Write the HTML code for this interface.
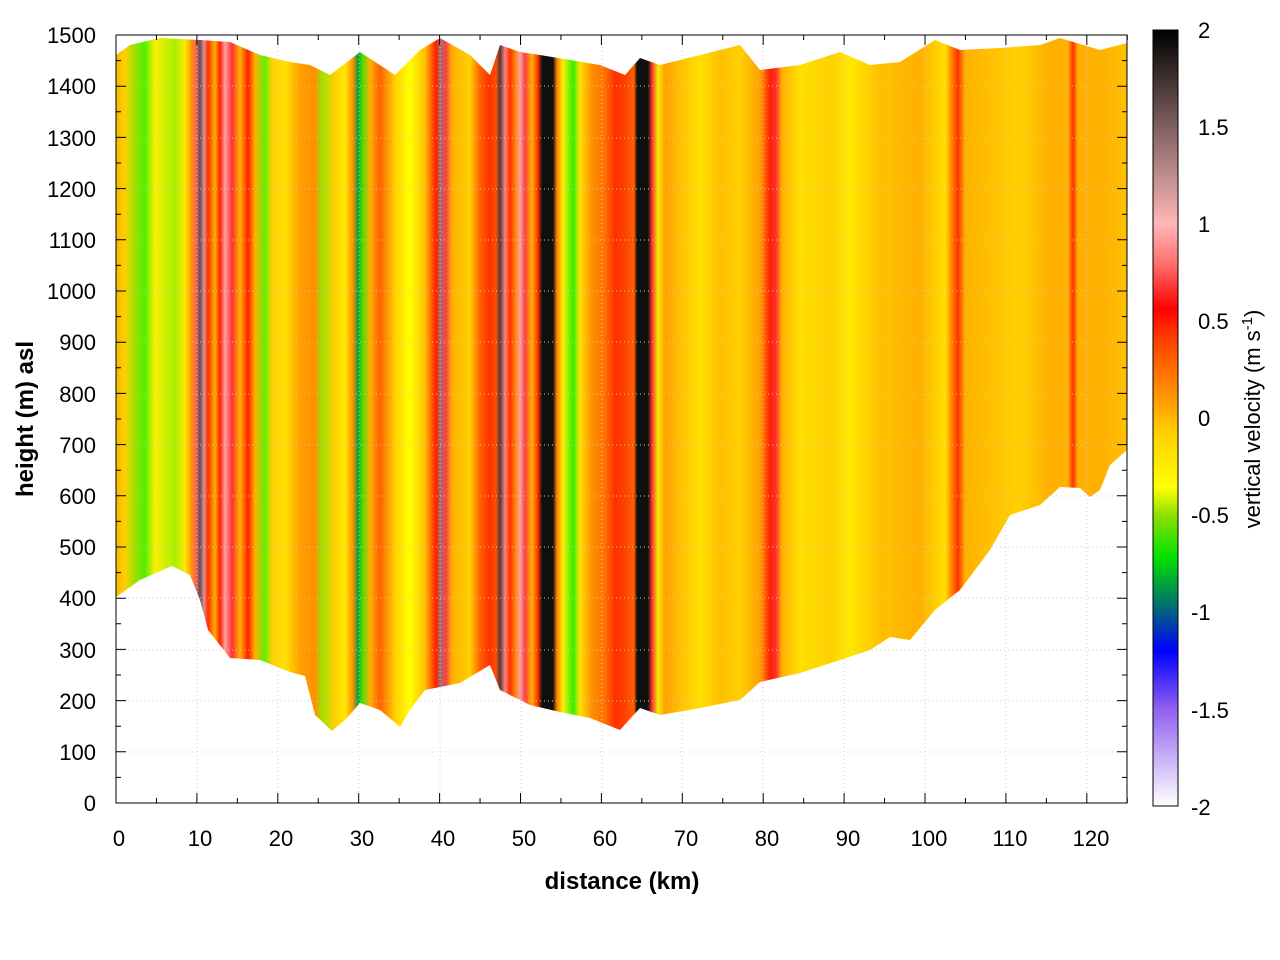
<!DOCTYPE html>
<html><head><meta charset="utf-8"><style>body{margin:0;background:#fff}svg{display:block}text{font-family:"Liberation Sans",sans-serif;font-size:22px;fill:#000}</style></head><body>
<svg width="1280" height="960" viewBox="0 0 1280 960">
<defs>
<linearGradient id="g" gradientUnits="userSpaceOnUse" x1="116" y1="0" x2="1127" y2="0">
<stop offset="0" stop-color="#f8b800"/>
</linearGradient>
<linearGradient id="cb" x1="0" y1="0" x2="0" y2="1">
<stop offset="0" stop-color="#000"/><stop offset="0.125" stop-color="#806060"/><stop offset="0.25" stop-color="#ffb8b8"/><stop offset="0.3" stop-color="#ff7070"/><stop offset="0.36" stop-color="#ff0000"/><stop offset="0.4" stop-color="#ff4000"/><stop offset="0.48" stop-color="#ffa000"/><stop offset="0.52" stop-color="#ffd000"/><stop offset="0.59" stop-color="#ffff00"/><stop offset="0.625" stop-color="#90e000"/><stop offset="0.68" stop-color="#00e000"/><stop offset="0.75" stop-color="#006080"/><stop offset="0.8" stop-color="#0000ff"/><stop offset="0.875" stop-color="#9060f0"/><stop offset="1" stop-color="#ffffff"/>
</linearGradient>
<clipPath id="c"><path d="M116,55 L130,45 160,38 200,40 230,42 260,55 290,62 310,65 330,75 360,52 395,75 420,50 440,38 470,55 490,75 500,45 520,52 540,55 570,60 600,65 625,75 640,58 660,65 700,55 740,45 760,70 800,65 840,52 870,65 900,62 935,40 960,50 1000,48 1040,45 1060,38 1100,50 1127,43 L1127,450 1110,465 1100,490 1090,497 1080,488 1060,487 1040,505 1010,515 990,550 960,590 935,610 910,640 890,637 870,650 840,660 800,673 760,682 740,700 700,708 660,715 640,708 620,730 590,718 560,712 530,705 500,690 490,665 460,683 425,690 410,710 400,727 380,710 360,703 345,720 332,731 315,715 305,676 290,672 260,660 230,658 208,630 200,600 190,575 172,566 140,580 116,597 Z"/></clipPath>
</defs>
<rect x="116" y="35" width="1011" height="768" fill="url(#g)" clip-path="url(#c)"/>
<g stroke="#ccc" stroke-dasharray="1,3" stroke-width="1">
<path d="M116,752H1127M116,701H1127M116,650H1127M116,598H1127M116,547H1127M116,496H1127M116,445H1127M116,394H1127M116,342H1127M116,291H1127M116,240H1127M116,189H1127M116,138H1127M116,86H1127"/>
<path d="M197,35V803M278,35V803M359,35V803M440,35V803M521,35V803M602,35V803M682,35V803M763,35V803M844,35V803M925,35V803M1006,35V803M1087,35V803"/>
</g>
<rect x="116" y="35" width="1011" height="768" fill="none" stroke="#000" stroke-width="1"/>
<g stroke="#000" stroke-width="1" id="ticks"></g>
<g text-anchor="end">
<text x="96" y="811">0</text><text x="96" y="760">100</text><text x="96" y="709">200</text><text x="96" y="658">300</text><text x="96" y="606">400</text><text x="96" y="555">500</text><text x="96" y="504">600</text><text x="96" y="453">700</text><text x="96" y="402">800</text><text x="96" y="350">900</text><text x="96" y="299">1000</text><text x="96" y="248">1100</text><text x="96" y="197">1200</text><text x="96" y="146">1300</text><text x="96" y="94">1400</text><text x="96" y="43">1500</text>
</g>
<g text-anchor="middle">
<text x="119" y="846">0</text><text x="200" y="846">10</text><text x="281" y="846">20</text><text x="362" y="846">30</text><text x="443" y="846">40</text><text x="524" y="846">50</text><text x="605" y="846">60</text><text x="686" y="846">70</text><text x="767" y="846">80</text><text x="848" y="846">90</text><text x="929" y="846">100</text><text x="1010" y="846">110</text><text x="1091" y="846">120</text>
<text x="622" y="889" style="font-weight:bold;font-size:24px">distance (km)</text>
<text transform="translate(33,419) rotate(-90)" style="font-weight:bold;font-size:24px">height (m) asl</text>
<text transform="translate(1260,419) rotate(-90)" style="font-size:22px">vertical velocity (m s<tspan dy="-8" style="font-size:15px">-1</tspan><tspan dy="8">)</tspan></text>
</g>
<rect x="1153" y="30" width="25" height="776" fill="url(#cb)" stroke="#000" stroke-width="1"/>
<g>
<text x="1198" y="38">2</text><text x="1198" y="135">1.5</text><text x="1198" y="232">1</text><text x="1198" y="329">0.5</text><text x="1198" y="426">0</text><text x="1191" y="523">-0.5</text><text x="1191" y="620">-1</text><text x="1191" y="718">-1.5</text><text x="1191" y="815">-2</text>
</g>
<script>
var s=[[116,"#f8b800"],[125,"#ffd000"],[135,"#9be000"],[145,"#50f000"],[155,"#ffee00"],[165,"#d0f000"],[175,"#a8f000"],[185,"#ffe800"],[192,"#ff9000"],[196,"#ff6060"],[200,"#605050"],[204,"#e09090"],[208,"#ff3000"],[215,"#ffb000"],[220,"#ff2000"],[225,"#ffa0a0"],[232,"#ff3030"],[240,"#ffb000"],[248,"#ff2000"],[255,"#ffb000"],[265,"#60f000"],[272,"#ffd000"],[285,"#ffe000"],[300,"#ffa000"],[315,"#ff9000"],[322,"#a0e000"],[335,"#ffd000"],[345,"#ffe800"],[353,"#ff9000"],[358,"#00a040"],[362,"#40e000"],[370,"#ffb000"],[380,"#ff6000"],[395,"#ffd000"],[410,"#ffff00"],[425,"#ffc000"],[436,"#ff2000"],[441,"#a07070"],[446,"#ff4040"],[452,"#ffb000"],[470,"#ffd000"],[480,"#ff6000"],[490,"#ff3000"],[496,"#ff5000"],[500,"#503838"],[505,"#ff8080"],[510,"#ff3000"],[515,"#ff8000"],[520,"#ffa0a0"],[525,"#ff4040"],[532,"#ffb000"],[538,"#ff3000"],[542,"#101010"],[553,"#101010"],[557,"#ff8000"],[563,"#ffee00"],[573,"#30f000"],[580,"#ffe000"],[592,"#ff9000"],[605,"#ff7000"],[615,"#ff3000"],[625,"#ff4000"],[634,"#ff6000"],[637,"#101010"],[648,"#101010"],[652,"#ff3030"],[658,"#f0f000"],[665,"#ffa000"],[680,"#ffc000"],[700,"#ffe000"],[720,"#ffc000"],[740,"#ffd000"],[760,"#ffa000"],[770,"#ff2000"],[776,"#ff3030"],[782,"#ffb000"],[800,"#ffe000"],[830,"#ffd000"],[850,"#ffe800"],[880,"#ffc000"],[920,"#ffb000"],[945,"#ffe000"],[958,"#ff3000"],[965,"#ffb000"],[990,"#ffc000"],[1020,"#ffd000"],[1050,"#ffb000"],[1068,"#ffb000"],[1073,"#ff3000"],[1078,"#ffb000"],[1100,"#ffb000"],[1127,"#ffc000"]];
var g=document.getElementById("g");g.innerHTML="";var ns="http://www.w3.org/2000/svg";
s.forEach(function(a){var e=document.createElementNS(ns,"stop");e.setAttribute("offset",(a[0]-116)/1011);e.setAttribute("stop-color",a[1]);g.appendChild(e);});
var t=document.getElementById("ticks"),d="";
for(var i=0;i<=30;i++){var y=803-i*25.6;var L=i%2?5:10;d+="M116,"+y+"h"+L+"M1127,"+y+"h-"+L;}
for(var k=0;k<=25;k++){var x=116+k*40.45;var L=k%2?5:10;d+="M"+x+",803v-"+L+"M"+x+",35v"+L;}
for(var j=0;j<=16;j++){var y=30+j*48.5;var L=j%2?5:8;d+="M1153,"+y+"h"+L+"M1178,"+y+"h-"+L;}
var p=document.createElementNS(ns,"path");p.setAttribute("d",d);t.appendChild(p);
</script>
</svg>
</body></html>
